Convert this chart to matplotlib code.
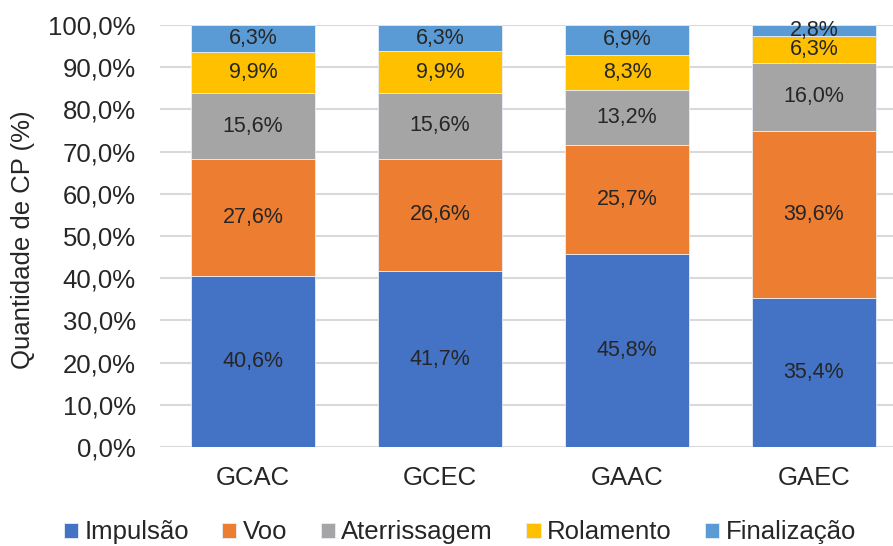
import matplotlib.pyplot as plt
from matplotlib.ticker import FuncFormatter

plt.rcParams["font.family"] = ["Liberation Sans", "DejaVu Sans"]

groups = ["GCAC", "GCEC", "GAAC", "GAEC"]
phases = ["Impulsão", "Voo", "Aterrissagem", "Rolamento", "Finalização"]
impulsao = [40.6, 41.7, 45.8, 35.4]
voo = [27.6, 26.6, 25.7, 39.6]
aterrissagem = [15.6, 15.6, 13.2, 16.0]
rolamento = [9.9, 9.9, 8.3, 6.3]
finalizacao = [6.3, 6.3, 6.9, 2.8]
colors = ["#4472C4", "#ED7D31", "#A5A5A5", "#FFC000", "#5B9BD5"]


def pct(v, _pos=None):
    return f"{v:.1f}%".replace(".", ",")


fig = plt.figure(figsize=(8.93, 5.46), dpi=100)
ax = fig.add_axes([159.5 / 893, 1 - 447 / 546, 733.5 / 893, 422 / 546])

x = list(range(len(groups)))
bottom = [0.0] * len(groups)
series = [impulsao, voo, aterrissagem, rolamento, finalizacao]
for name, vals, col in zip(phases, series, colors):
    bars = ax.bar(x, vals, width=0.668, bottom=bottom, color=col,
                  edgecolor="#E8EEF7", linewidth=0.6, label=name, zorder=2)
    ax.bar_label(bars, labels=[pct(v) for v in vals], label_type="center",
                 fontsize=15.5, color="#262626")
    bottom = [b + v for b, v in zip(bottom, vals)]

ax.set_xlim(-0.5, -0.5 + 733.5 / 187)
ax.set_ylim(0, 100)
ax.set_yticks(range(0, 101, 10))
ax.yaxis.set_major_formatter(FuncFormatter(pct))
ax.set_xticks(x, groups)
ax.tick_params(axis="both", length=0, labelsize=18.5, colors="#262626")
ax.tick_params(axis="y", pad=17)
ax.tick_params(axis="x", pad=14)
ax.grid(axis="y", color="#D9D9D9", linewidth=1.5, zorder=0)
ax.set_axisbelow(True)
for s in ax.spines.values():
    s.set_visible(False)

fig.text(23 / 893, 1 - 240 / 546, "Quantidade de CP (%)", rotation=90,
         ha="center", va="center", fontsize=18.5, color="#262626")

fig.legend(loc="center", bbox_to_anchor=(0.515, 0.025), ncol=5, frameon=False,
           fontsize=18.5, handlelength=0.55, handleheight=0.55,
           handletextpad=0.25, columnspacing=1.3, labelcolor="#262626")

fig.savefig("out.png", dpi=100)
